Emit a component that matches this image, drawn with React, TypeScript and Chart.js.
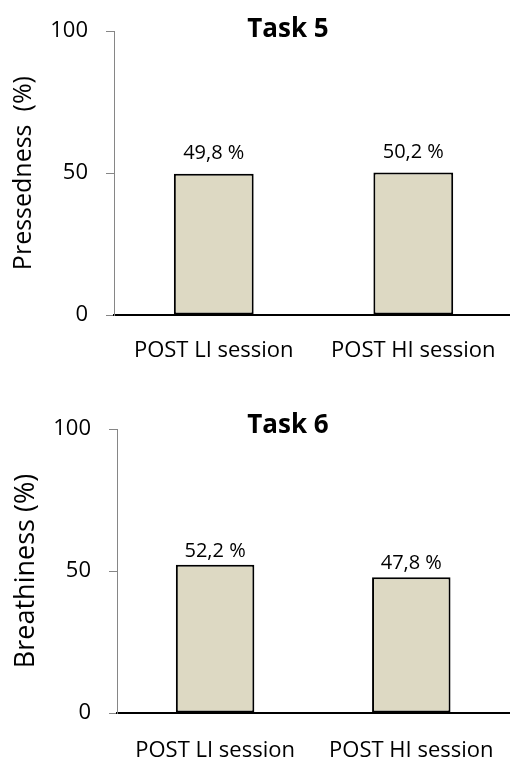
import React, { useEffect, useRef } from "react";
import { Chart, registerables } from "chart.js";

Chart.register(...registerables);

// ---- data ----
const categories = ["POST LI session", "POST HI session"];
const task5Values = [49.8, 50.2];
const task6Values = [52.2, 47.8];
const yTickValues = [0, 50, 100];
const task5Title = "Task 5";
const task6Title = "Task 6";
const task5YLabel = "Pressedness  (%)";
const task6YLabel = "Breathiness (%)";

const FONT = "'Open Sans', sans-serif";
const BAR_FILL = "#DDD9C3";
const AXIS_GRAY = "#868686";

const fmt = (v: number) => v.toFixed(1).replace(".", ",") + " %";

type PanelCfg = {
  title: string;
  yLabel: string;
  values: number[];
  padTop: number;
  axisLeft: number;
  xHeight: number;
  xPad: number;
  labelGap: number;
  titleDx: number;
  titleDy: number;
  yTitlePad: number;
  yTitleSize: number;
};

const overlayPlugin = {
  id: "overlay",
  afterDatasetsDraw(chart: any, _args: any, opts: any) {
    const ctx = chart.ctx;
    const area = chart.chartArea;
    ctx.save();
    ctx.fillStyle = "#000";
    ctx.textAlign = "center";
    ctx.textBaseline = "alphabetic";
    ctx.font = `bold 26px ${FONT}`;
    ctx.fillText(opts.title, area.left + opts.titleDx, area.top + opts.titleDy);
    ctx.font = `20px ${FONT}`;
    const meta = chart.getDatasetMeta(0);
    const data = chart.data.datasets[0].data;
    meta.data.forEach((bar: any, i: number) => {
      ctx.fillText(fmt(data[i]), bar.x, bar.y - opts.labelGap);
    });
    ctx.restore();
  },
};

function Panel({ cfg }: { cfg: PanelCfg }) {
  const ref = useRef<HTMLCanvasElement>(null);
  useEffect(() => {
    if (!ref.current) return;
    const chart = new Chart(ref.current, {
      type: "bar",
      data: {
        labels: categories,
        datasets: [
          {
            data: cfg.values,
            backgroundColor: BAR_FILL,
            borderColor: "#000",
            borderWidth: 2,
            borderSkipped: false,
            categoryPercentage: 1,
            barPercentage: 0.4,
          },
        ],
      },
      options: {
        responsive: false,
        animation: false,
        devicePixelRatio: 1,
        layout: { padding: { top: cfg.padTop, right: 6, left: 0, bottom: 0 } },
        plugins: {
          legend: { display: false },
          tooltip: { enabled: false },
          title: { display: false },
          overlay: {
            title: cfg.title,
            labelGap: cfg.labelGap,
            titleDx: cfg.titleDx,
            titleDy: cfg.titleDy,
          },
        } as any,
        scales: {
          x: {
            grid: { display: false, drawTicks: false },
            border: { display: true, color: "#000", width: 2 },
            ticks: {
              font: { family: FONT, size: 22 },
              color: "#000",
              padding: cfg.xPad,
              maxRotation: 0,
              autoSkip: false,
            },
            afterFit: (s: any) => {
              s.height = cfg.xHeight;
            },
          },
          y: {
            min: 0,
            max: 100,
            afterBuildTicks: (s: any) => {
              s.ticks = yTickValues.map((v) => ({ value: v }));
            },
            grid: {
              drawOnChartArea: false,
              drawTicks: true,
              tickLength: 8,
              color: AXIS_GRAY,
              lineWidth: 1,
            },
            border: { display: true, color: AXIS_GRAY, width: 1 },
            ticks: {
              font: { family: FONT, size: 22 },
              color: "#000",
              padding: 18,
            },
            title: {
              display: true,
              text: cfg.yLabel,
              color: "#000",
              font: { family: FONT, size: cfg.yTitleSize },
              padding: { top: cfg.yTitlePad, bottom: 0 },
            },
            afterFit: (s: any) => {
              s.width = cfg.axisLeft;
            },
          },
        },
      },
      plugins: [overlayPlugin],
    });
    return () => chart.destroy();
  }, [cfg]);
  return <canvas ref={ref} width={520} height={380} style={{ display: "block" }} />;
}

const panel1: PanelCfg = {
  title: task5Title,
  yLabel: task5YLabel,
  values: task5Values,
  padTop: 30,
  axisLeft: 114,
  xHeight: 65,
  xPad: 23,
  labelGap: 15,
  titleDx: 174,
  titleDy: 6,
  yTitlePad: 9,
  yTitleSize: 25,
};

const panel2: PanelCfg = {
  title: task6Title,
  yLabel: task6YLabel,
  values: task6Values,
  padTop: 49,
  axisLeft: 117,
  xHeight: 47,
  xPad: 25,
  labelGap: 8,
  titleDx: 171,
  titleDy: 4,
  yTitlePad: 10,
  yTitleSize: 27,
};

export default function App() {
  return (
    <div
      style={{
        position: "fixed",
        left: 0,
        top: 0,
        width: 510,
        height: 760,
        overflow: "hidden",
        background: "#fff",
      }}
    >
      <Panel cfg={panel1} />
      <Panel cfg={panel2} />
    </div>
  );
}
